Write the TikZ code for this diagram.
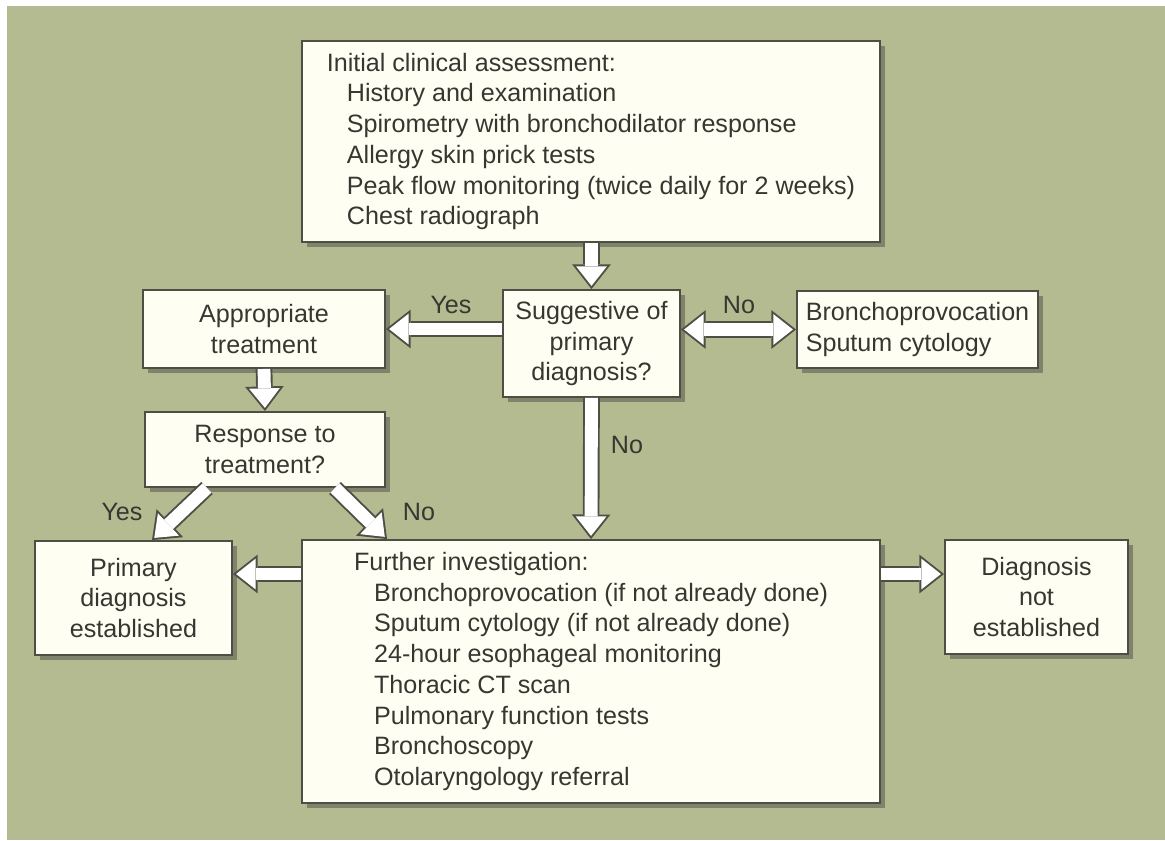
\documentclass[tikz,border=0pt]{standalone}
\usepackage{fontspec}
\setmainfont{Liberation Sans}
\usetikzlibrary{arrows.meta,shadows}
\definecolor{bgolive}{RGB}{181,187,144}
\definecolor{boxcream}{RGB}{255,254,242}
\definecolor{edgegray}{RGB}{78,78,68}
\definecolor{inkgray}{RGB}{55,55,50}

\begin{document}
\begin{tikzpicture}[x=0.02cm,y=-0.02cm,
	every node/.style={font=\fontsize{14.3}{17.5}\selectfont,text=inkgray},
	box/.style={draw=edgegray,line width=1.1pt,fill=boxcream,inner sep=0pt,
		drop shadow={shadow xshift=3pt,shadow yshift=-3pt,opacity=0.45,fill=black!75}},
	fat/.style={draw=white,line width=7.3pt,shorten >=1.8pt,
		-{Triangle[length=11.1pt,width=17.5pt,line width=0pt]},
		preaction={draw=edgegray,line width=9.5pt,shorten >=0pt,
			-{Triangle[length=14pt,width=22pt,line width=0pt]}}},
	fatboth/.style={draw=white,line width=7.3pt,shorten >=1.8pt,shorten <=1.8pt,
		{Triangle[length=11.1pt,width=17.5pt,line width=0pt]}-{Triangle[length=11.1pt,width=17.5pt,line width=0pt]},
		preaction={draw=edgegray,line width=9.5pt,shorten >=0pt,shorten <=0pt,
			{Triangle[length=14pt,width=22pt,line width=0pt]}-{Triangle[length=14pt,width=22pt,line width=0pt]}}}]
	\useasboundingbox (0,0) rectangle (1165,840);
	\fill[white] (0,0) rectangle (1165,840);
	\fill[bgolive] (7,6) rectangle (1165,840);

	\node[box,minimum width=11.56cm,minimum height=4.02cm,align=left] (init) at (591,141.5) {Initial clinical assessment:\\
		\hspace*{0.8em}History and examination\\
		\hspace*{0.8em}Spirometry with bronchodilator response\\
		\hspace*{0.8em}Allergy skin prick tests\\
		\hspace*{0.8em}Peak flow monitoring (twice daily for 2 weeks)\\
		\hspace*{0.8em}Chest radiograph};
	\node[box,minimum width=3.54cm,minimum height=2.14cm,align=center] (sugg) at (591.5,343.5) {Suggestive of\\primary\\diagnosis?};
	\node[box,minimum width=4.84cm,minimum height=1.56cm,align=center] (treat) at (264,329) {Appropriate\\treatment};
	\node[box,minimum width=4.82cm,minimum height=1.54cm,align=left] (sput) at (917.5,329.5) {Bronchoprovocation\\Sputum cytology};
	\node[box,minimum width=4.8cm,minimum height=1.5cm,align=center] (resp) at (265,449.5) {Response to\\treatment?};
	\node[box,minimum width=3.94cm,minimum height=2.28cm,align=center] (prim) at (133.5,598) {Primary\\diagnosis\\established};
	\node[box,minimum width=11.56cm,minimum height=5.26cm,align=left] (further) at (591,671.5) {Further investigation:\\
		\hspace*{0.8em}Bronchoprovocation (if not already done)\\
		\hspace*{0.8em}Sputum cytology (if not already done)\\
		\hspace*{0.8em}24-hour esophageal monitoring\\
		\hspace*{0.8em}Thoracic CT scan\\
		\hspace*{0.8em}Pulmonary function tests\\
		\hspace*{0.8em}Bronchoscopy\\
		\hspace*{0.8em}Otolaryngology referral};
	\node[box,minimum width=3.66cm,minimum height=2.28cm,align=center] (notest) at (1036.5,597) {Diagnosis\\not\\established};

	\coordinate (frow) at (0,574);

	\draw[fat] (init.south -| sugg.north) -- (sugg.north);
	\draw[fat] (sugg.west |- treat.east) -- (treat.east);
	\draw[fatboth] (sugg.east |- sput.west) -- (sput.west);
	\draw[fat] (treat.south) -- (resp.north);
	\draw[fat] ([xshift=-1.16cm]resp.south) -- ([xshift=0.37cm]prim.north);
	\draw[fat] ([xshift=1.4cm]resp.south) -- ([xshift=-4.08cm]further.north);
	\draw[fat] (sugg.south) -- (further.north);
	\draw[fat] (further.west |- frow) -- (prim.east |- frow);
	\draw[fat] (further.east |- frow) -- (notest.west |- frow);

	\node (yes1) at (451,305) {Yes};
	\node (no1) at (739,305) {No};
	\node (no2) at (627,445) {No};
	\node (yes2) at (122,512) {Yes};
	\node (no3) at (419,512) {No};
\end{tikzpicture}
\end{document}
